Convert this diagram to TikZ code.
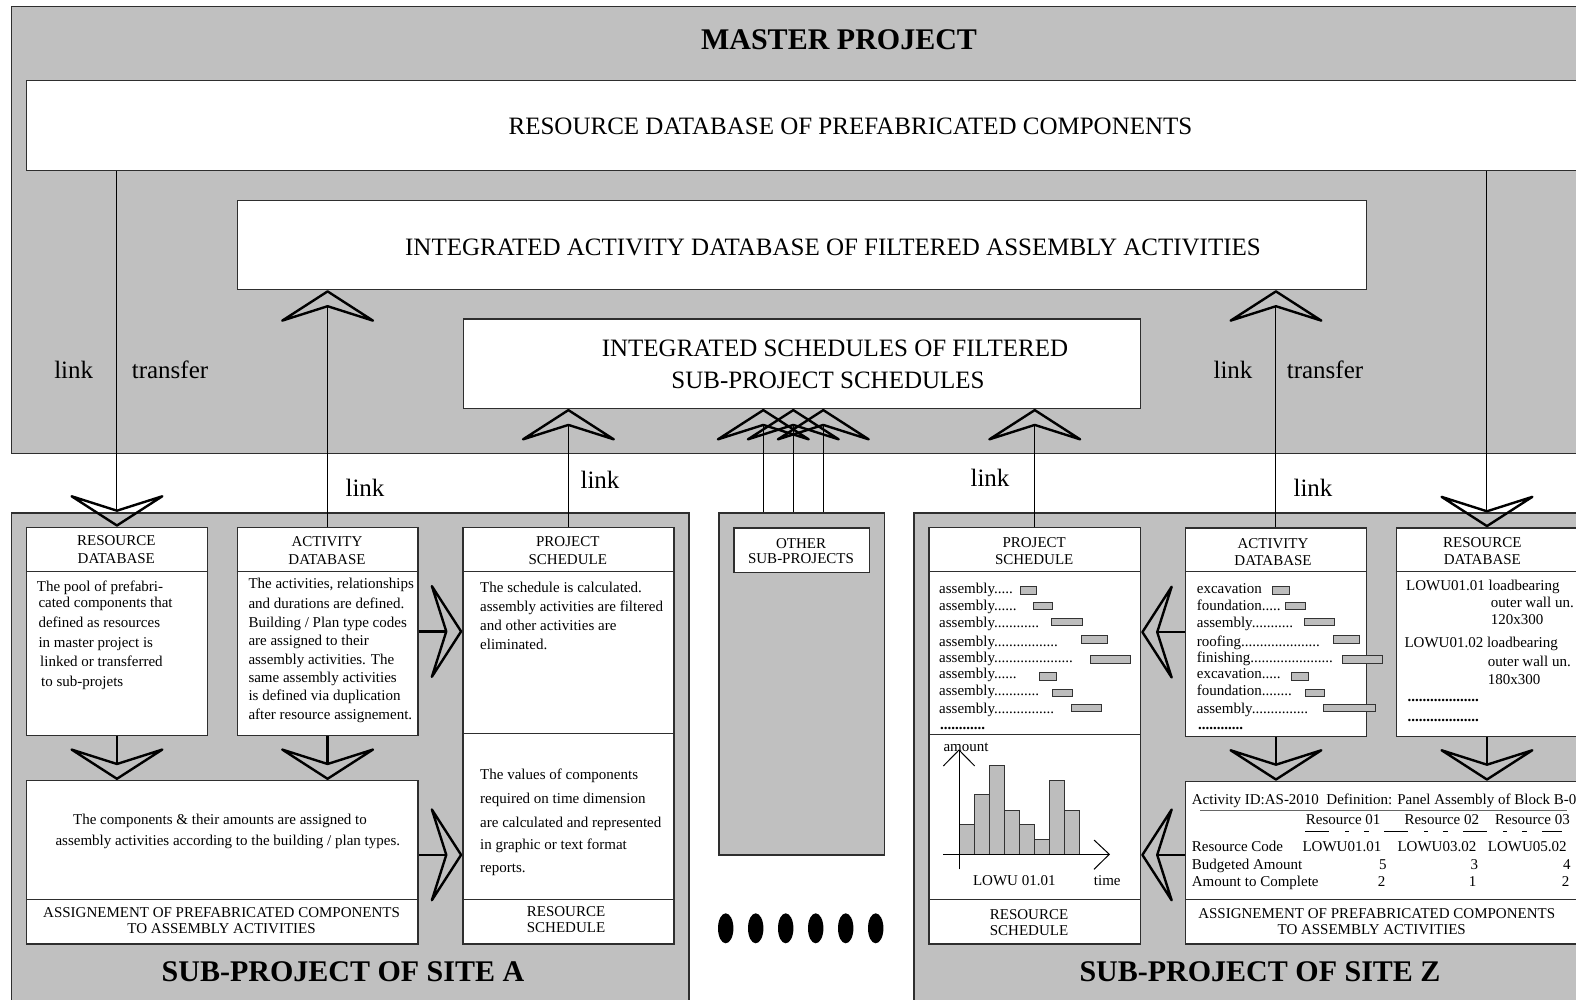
\documentclass[tikz,border=0pt]{standalone}
\usepackage{fontspec}
\setmainfont{Liberation Serif}
\usetikzlibrary{arrows.meta}
\definecolor{panel}{HTML}{C0C0C0}
\definecolor{edge}{HTML}{2E2E2E}
\definecolor{barfill}{HTML}{BDBDBD}

\newcommand\fbig{\fontsize{25}{30}\selectfont}
\newcommand\fsm{\fontsize{15}{18}\selectfont}
\newcommand\ftitle{\fontsize{30}{36}\selectfont\bfseries}

% rectangle node given by its top-left and bottom-right corners
\newcommand\boxnode[6]{%
  \pgfmathsetmacro\bw{#5-#3}\pgfmathsetmacro\bh{#6-#4}%
  \node[#2, anchor=north west, minimum width=\bw pt, minimum height=\bh pt, inner sep=0pt] (#1) at (#3,#4) {};}

\tikzset{
  panelbox/.style={draw=edge, fill=panel, line width=1.2pt},
  wbox/.style={draw=edge, fill=white, line width=1.2pt},
  divider/.style={draw=edge, line width=1.2pt},
  chev/.style={-{Stealth[open, round, length=34.5pt 0, width=107pt 0, inset=17pt 0, line width=2.4pt 0]}},
  thinlink/.style={draw=black, line width=1pt, chev},
  thicklink/.style={draw=black, line width=2.4pt, chev},
  txt/.style={inner sep=0pt, font=\fsm},
  big/.style={inner sep=0pt, font=\fbig},
  ttl/.style={inner sep=0pt, font=\ftitle},
  bar/.style={draw=black!80, fill=barfill, line width=0.9pt},
}

\begin{document}
\begin{tikzpicture}[x=1pt,y=-1pt]
\useasboundingbox (0,0) rectangle (1576,1000);
\clip (0,0) rectangle (1576,1000);

% ---------- grey panels ----------
\boxnode{master}{panelbox}{11}{6}{1600}{452.7}
\boxnode{subA}{panelbox}{11}{512.3}{688.3}{1010}
\boxnode{other}{panelbox}{718.3}{512.3}{884}{854.3}
\boxnode{subZ}{panelbox}{913.3}{512.3}{1600}{1010}

% ---------- master project boxes ----------
\boxnode{resdb}{wbox}{25.5}{80.3}{1600}{170}
\boxnode{actdb}{wbox}{236.7}{200}{1366}{289}
\boxnode{sched}{wbox}{462.8}{318.3}{1140}{407.7}

% ---------- site A boxes ----------
\boxnode{rdbA}{wbox}{26}{526.7}{206.7}{735}
\boxnode{adbA}{wbox}{236.7}{526.7}{417.3}{735}
\boxnode{psA}{wbox}{462.3}{526.7}{673.3}{943.3}
\boxnode{asgA}{wbox}{26}{780}{417.3}{943.3}
\draw[divider] (26,571.7) -- (206.7,571.7);
\draw[divider] (236.7,571.7) -- (417.3,571.7);
\draw[divider] (462.3,571.7) -- (673.3,571.7) (462.3,733.3) -- (673.3,733.3) (462.3,899.3) -- (673.3,899.3);
\draw[divider] (26,899.3) -- (417.3,899.3);

% ---------- other sub-projects ----------
\boxnode{otherh}{wbox}{733.3}{527.3}{868.7}{571.7}

% ---------- site Z boxes ----------
\boxnode{psZ}{wbox}{928.3}{526.7}{1140}{943.3}
\boxnode{adbZ}{wbox}{1185}{527.3}{1365.7}{735.7}
\boxnode{rdbZ}{wbox}{1395.7}{527.3}{1577}{735.7}
\boxnode{asgZ}{wbox}{1185}{780.7}{1577}{943.3}
\draw[divider] (928.3,571.7) -- (1140,571.7) (928.3,734.3) -- (1140,734.3) (928.3,899.3) -- (1140,899.3);
\draw[divider] (1185,571.7) -- (1365.7,571.7);
\draw[divider] (1395.7,571.7) -- (1577,571.7);
\draw[divider] (1185,899.3) -- (1577,899.3);

% ---------- links between master and sub-projects ----------
\draw[thinlink] (resdb.south -| rdbA.north) -- (rdbA.north);
\draw[thinlink] (adbA.north) -- (adbA.north |- actdb.south);
\draw[thinlink] (psA.north) -- (psA.north |- sched.south);
\coordinate (o1) at (763.3,512.3);
\coordinate (o2) at (793.3,512.3);
\coordinate (o3) at (823.3,512.3);
\foreach \o in {o1,o2,o3} \draw[thinlink] (\o) -- (\o |- sched.south);
\draw[thinlink] (psZ.north) -- (psZ.north |- sched.south);
\draw[thinlink] (adbZ.north) -- (adbZ.north |- actdb.south);
\draw[thinlink] (resdb.south -| rdbZ.north) -- (rdbZ.north);

% ---------- flows inside the sub-projects ----------
\draw[thicklink] (rdbA.south) -- (rdbA.south |- asgA.north);
\draw[thicklink] (adbA.south) -- (adbA.south |- asgA.north);
\draw[thicklink] (adbA.east) -- (adbA.east -| psA.west);
\coordinate (asgAout) at ([yshift=7.4pt]asgA.east);
\draw[thicklink] (asgAout) -- (asgAout -| psA.west);

\draw[thicklink] (adbZ.south) -- (adbZ.south |- asgZ.north);
\draw[thicklink] (rdbZ.south) -- (rdbZ.south |- asgZ.north);
\draw[thicklink] (adbZ.west) -- (adbZ.west -| psZ.east);
\coordinate (asgZout) at ([yshift=7.7pt]asgZ.west);
\draw[thicklink] (asgZout) -- (asgZout -| psZ.east);

% ---------- titles ----------
\node[ttl, anchor=base] (tmaster) at (839,49.2) {MASTER PROJECT};
\node[ttl, anchor=base] (tsubA) at (343,981.7) {SUB-PROJECT OF SITE A};
\node[ttl, anchor=base] (tsubZ) at (1260,981.7) {SUB-PROJECT OF SITE Z};

% ---------- master texts ----------
\node[big, anchor=base] (tresdb) at (850.5,135) {RESOURCE DATABASE OF PREFABRICATED COMPONENTS};
\node[big, anchor=base] (tactdb) at (833,255) {INTEGRATED ACTIVITY DATABASE OF FILTERED ASSEMBLY ACTIVITIES};
\node[big, anchor=base] (tsched1) at (835,356.3) {INTEGRATED SCHEDULES OF FILTERED};
\node[big, anchor=base] (tsched2) at (828,388.3) {SUB-PROJECT SCHEDULES};

% ---------- link labels ----------
\node[big, anchor=base] (lk1) at (73.7,378.5) {link};
\node[big, anchor=base] (tr1) at (170,378.5) {transfer};
\node[big, anchor=base] (lk2) at (1233,378.5) {link};
\node[big, anchor=base] (tr2) at (1325,378.5) {transfer};
\node[big, anchor=base] (lk3) at (365,496) {link};
\node[big, anchor=base] (lk4) at (600,488) {link};
\node[big, anchor=base] (lk5) at (990,486) {link};
\node[big, anchor=base] (lk6) at (1313,496) {link};

% ---------- site A texts ----------
\node[txt, anchor=base] (rdbAh1) at (116.3,545) {RESOURCE};
\node[txt, anchor=base] (rdbAh2) at (116.3,563.3) {DATABASE};
\foreach \s/\x/\y [count=\i] in {{The pool of prefabri-}/36.7/591.2, {cated components that}/38.3/607.8,
  {defined as resources}/38.3/627.8, {in master project is}/38.3/647.8,
  {linked or transferred}/40/666.8, {to sub-projets}/41/686.2}
  \node[txt, anchor=base west] (rdbAl\i) at (\x,\y) {\s};

\node[txt, anchor=base] (adbAh1) at (327,546.7) {ACTIVITY};
\node[txt, anchor=base] (adbAh2) at (327,564) {DATABASE};
\foreach \s/\y [count=\i] in {{The activities, relationships}/588.8, {and durations are defined.}/608.5,
  {Building / Plan type codes}/627.5, {are assigned to their}/645.8,
  {assembly activities. The}/664.8, {same assembly activities}/682.2,
  {is defined via duplication}/700.8, {after resource assignement.}/719.8}
  \node[txt, anchor=base west] (adbAl\i) at (248.3,\y) {\s};

\node[txt, anchor=base] (psAh1) at (567.8,546) {PROJECT};
\node[txt, anchor=base] (psAh2) at (567.8,564) {SCHEDULE};
\foreach \s/\y [count=\i] in {{The schedule is calculated.}/592.8, {assembly activities are filtered}/611.8,
  {and other activities are}/630.2, {eliminated.}/649.8,
  {The values of components}/779.5, {required on time dimension}/803.8,
  {are calculated and represented}/827.8, {in graphic or text format}/849.5, {reports.}/872.2}
  \node[txt, anchor=base west] (psAl\i) at (480,\y) {\s};
\node[txt, anchor=base] (psAf1) at (566,916) {RESOURCE};
\node[txt, anchor=base] (psAf2) at (566,932.7) {SCHEDULE};

\node[txt, anchor=base] (asgAl1) at (220,824.5) {The components \& their amounts are assigned to};
\node[txt, anchor=base] (asgAl2) at (227.8,845.5) {assembly activities according to the building / plan types.};
\node[txt, anchor=base] (asgAf1) at (221.6,917.7) {ASSIGNEMENT OF PREFABRICATED COMPONENTS};
\node[txt, anchor=base] (asgAf2) at (221.6,933.3) {TO ASSEMBLY ACTIVITIES};

% ---------- other sub-projects ----------
\node[txt, anchor=base] (othh1) at (801,548.3) {OTHER};
\node[txt, anchor=base] (othh2) at (801,563.3) {SUB-PROJECTS};
\foreach \i in {0,...,5}
  \fill (725.7+30*\i,928.3) ellipse [x radius=7.7, y radius=15];

% ---------- site Z : project / resource schedule ----------
\node[txt, anchor=base] (psZh1) at (1034.2,547.3) {PROJECT};
\node[txt, anchor=base] (psZh2) at (1034.2,564) {SCHEDULE};
\foreach \s/\y [count=\i] in {{assembly.....}/593.5, {assembly......}/610.5,
  {assembly............}/627.8, {assembly.................}/646.2,
  {assembly.....................}/662.2, {assembly......}/678.8,
  {assembly............}/695.5, {assembly................}/713.5}
  \node[txt, anchor=base west] (psZl\i) at (939,\y) {\s};
\node[txt, anchor=base west] (psZdots) at (940,729) {\textbf{............}};
\foreach \a/\b/\c/\d in {1020.7/586/1036.7/594, 1033.3/602.7/1052.7/609.3,
  1051.7/618.3/1082/625.7, 1081/635.7/1107.7/643.3, 1090.3/655.7/1130/663.3,
  1039.3/672.3/1056.7/680, 1052.7/689/1072.7/696, 1071.3/704.3/1101.7/711.7}
  \draw[bar] (\a,\b) rectangle (\c,\d);

% histogram of LOWU 01.01
\foreach \h [count=\i from 0] in {824.3,794.3,765,810,824.3,839.3,780,810}
  \draw[bar] (959+15*\i,\h) rectangle (974+15*\i,854.3);
\draw[line width=1pt] (959,869.3) -- (959,750);
\draw[line width=1pt] (943.3,766) -- (959,750) -- (974.7,766);
\draw[line width=1pt] (943.3,854.3) -- (1109.3,854.3);
\draw[line width=1pt] (1094,840) -- (1109.3,854.3) -- (1094,869.3);
\node[txt, anchor=base] (hamount) at (966,751) {amount};
\node[txt, anchor=base] (hlowu) at (1014.3,885) {LOWU 01.01};
\node[txt, anchor=base] (htime) at (1107.3,885) {time};
\node[txt, anchor=base] (psZf1) at (1029,919) {RESOURCE};
\node[txt, anchor=base] (psZf2) at (1029,935) {SCHEDULE};

% ---------- site Z : activity database ----------
\node[txt, anchor=base] (adbZh1) at (1273,548.3) {ACTIVITY};
\node[txt, anchor=base] (adbZh2) at (1273,565) {DATABASE};
\foreach \s/\y [count=\i] in {{excavation}/593.5, {foundation.....}/610.2,
  {assembly...........}/627.8, {roofing.....................}/646.2,
  {finishing......................}/662.2, {excavation.....}/678.8,
  {foundation........}/695.5, {assembly...............}/713.5}
  \node[txt, anchor=base west] (adbZl\i) at (1196.7,\y) {\s};
\node[txt, anchor=base west] (adbZdots) at (1198,729) {\textbf{............}};
\foreach \a/\b/\c/\d in {1272.3/586/1289/594, 1285.3/602.7/1305/609.3,
  1304.3/618.3/1334/625.7, 1333.3/635.7/1359.3/643.3, 1342.3/655.7/1382.3/663.3,
  1291.3/672.3/1308.3/680, 1305/689/1324.3/696, 1323.3/704.3/1375.3/711.7}
  \draw[bar] (\a,\b) rectangle (\c,\d);

% ---------- site Z : resource database ----------
\node[txt, anchor=base] (rdbZh1) at (1482.3,547.3) {RESOURCE};
\node[txt, anchor=base] (rdbZh2) at (1482.3,564) {DATABASE};
\foreach \s/\x/\y [count=\i] in {{LOWU01.01 loadbearing}/1406/590.2, {outer wall un.}/1490.7/607.2,
  {120x300}/1490.7/624.5, {LOWU01.02 loadbearing}/1404.3/647.8,
  {outer wall un.}/1487.7/666.2, {180x300}/1487.7/684.5}
  \node[txt, anchor=base west] (rdbZl\i) at (\x,\y) {\s};
\node[txt, anchor=base west] (rdbZd1) at (1407.3,701) {\textbf{...................}};
\node[txt, anchor=base west] (rdbZd2) at (1407.3,721) {\textbf{...................}};

% ---------- site Z : assignment table ----------
\node[txt, anchor=base west] (asgZid) at (1191.7,804.5) {Activity ID:AS-2010\ \ Definition: Panel Assembly of Block B-01};
\draw[draw=black!60, line width=1pt] (1200,810) -- (1566.7,810);
\node[txt, anchor=base west] (asgZr1) at (1305.7,824.5) {Resource 01};
\node[txt, anchor=base west] (asgZr2) at (1404.3,824.5) {Resource 02};
\node[txt, anchor=base west] (asgZr3) at (1495,824.5) {Resource 03};
\draw[line width=1pt, dash pattern=on 24pt off 16pt on 4.3pt off 15pt on 4.3pt off 15.4pt] (1305,831.7) -- (1562,831.7);
\node[txt, anchor=base west] (asgZc0) at (1191.7,851.8) {Resource Code};
\node[txt, anchor=base west] (asgZc1) at (1302.3,851.8) {LOWU01.01};
\node[txt, anchor=base west] (asgZc2) at (1397.3,851.8) {LOWU03.02};
\node[txt, anchor=base west] (asgZc3) at (1487.7,851.8) {LOWU05.02};
\node[txt, anchor=base west] (asgZb0) at (1191.7,869.5) {Budgeted Amount};
\node[txt, anchor=base east] (asgZb1) at (1386.7,869.5) {5};
\node[txt, anchor=base east] (asgZb2) at (1478.3,869.5) {3};
\node[txt, anchor=base east] (asgZb3) at (1570.7,869.5) {4};
\node[txt, anchor=base west] (asgZa0) at (1191.7,886.8) {Amount to Complete};
\node[txt, anchor=base east] (asgZa1) at (1385.5,886.8) {2};
\node[txt, anchor=base east] (asgZa2) at (1476.5,886.8) {1};
\node[txt, anchor=base east] (asgZa3) at (1569.5,886.8) {2};
\node[txt, anchor=base] (asgZf1) at (1376.7,918.3) {ASSIGNEMENT OF PREFABRICATED COMPONENTS};
\node[txt, anchor=base] (asgZf2) at (1371.7,934.3) {TO ASSEMBLY ACTIVITIES};
\end{tikzpicture}
\end{document}
